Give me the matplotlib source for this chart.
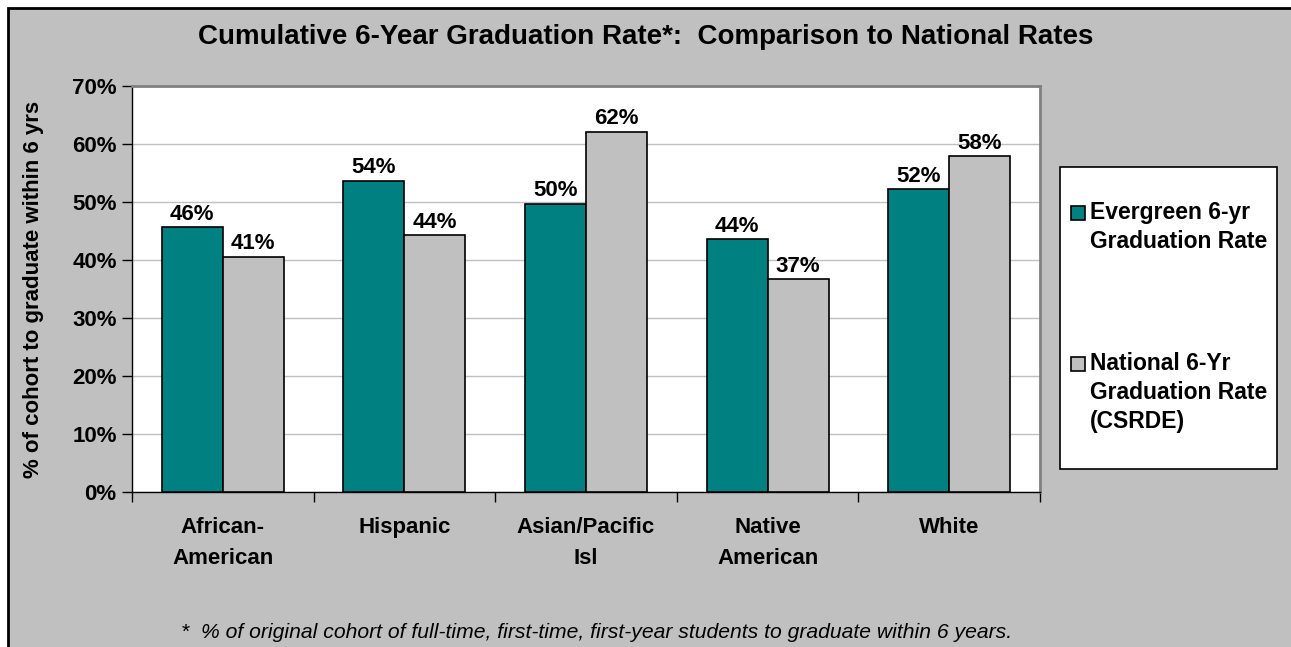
import numpy as np
import matplotlib
matplotlib.use('Agg')
from matplotlib import pyplot as plt
from matplotlib.patches import Rectangle

# Data
groups = ['African-\nAmerican', 'Hispanic', 'Asian/Pacific\nIsl', 'Native\nAmerican', 'White']
evergreen = [45.7, 53.7, 49.7, 43.6, 52.2]
national = [40.6, 44.3, 62.1, 36.7, 57.9]
series_names = ['Evergreen 6-yr\nGraduation Rate', 'National 6-Yr\nGraduation Rate\n(CSRDE)']
series_colors = ['#008080', '#c0c0c0']
yticks = [0, 10, 20, 30, 40, 50, 60, 70]

plt.rcParams['font.family'] = ['Liberation Sans', 'DejaVu Sans']
W, H = 1291, 647
fig = plt.figure(figsize=(W / 100, H / 100), dpi=100, facecolor='white')

# gray chart area with black border on top/left
fig.patches.append(Rectangle((8 / W, -0.1), 1.2, 1 - 8 / H + 0.1,
                             transform=fig.transFigure, facecolor='#c0c0c0',
                             edgecolor='black', linewidth=2, zorder=-10))

ax = fig.add_axes([132 / W, (H - 492) / H, (1040 - 132) / W, (492 - 86) / H])
ax.set_facecolor('white')

x = np.arange(len(groups))
w = 0.336
b1 = ax.bar(x - w / 2, evergreen, w, color=series_colors[0], edgecolor='black', linewidth=1.2, zorder=3)
b2 = ax.bar(x + w / 2, national, w, color=series_colors[1], edgecolor='black', linewidth=1.2, zorder=3)

for bars, vals in [(b1, evergreen), (b2, national)]:
    for r, v in zip(bars, vals):
        ax.text(r.get_x() + r.get_width() / 2, v + 0.4, '%d%%' % round(v),
                ha='center', va='bottom', fontsize=16, fontweight='bold')

ax.set_xlim(-0.5, len(groups) - 0.5)
ax.set_ylim(0, 70)
ax.set_yticks(yticks)
ax.set_yticklabels(['%d%%' % t for t in yticks], fontsize=16, fontweight='bold')
ax.yaxis.grid(True, color='#c0c0c0', linewidth=1, zorder=0)
ax.set_axisbelow(True)

# category boundaries as ticks, labels in between
ax.set_xticks(np.arange(len(groups) + 1) - 0.5)
ax.set_xticklabels([])
ax.set_xticks(x, minor=True)
ax.set_xticklabels(groups, minor=True, fontsize=16, fontweight='bold', linespacing=1.6)
ax.tick_params(axis='x', which='minor', length=0, pad=18)
ax.tick_params(axis='x', which='major', length=7, direction='out', width=1)
ax.tick_params(axis='y', length=7, direction='out', width=1, pad=4)

for s in ['top', 'right']:
    ax.spines[s].set_color('#808080')
    ax.spines[s].set_linewidth(2)
for s in ['left', 'bottom']:
    ax.spines[s].set_color('black')
    ax.spines[s].set_linewidth(1)

ax.set_ylabel('% of cohort to graduate within 6 yrs', fontsize=16, fontweight='bold', labelpad=20)

fig.text(646 / W, 1 - 37 / H,
         'Cumulative 6-Year Graduation Rate*:  Comparison to National Rates',
         ha='center', va='center', fontsize=20, fontweight='bold')

fig.text(597 / W, 1 - 632 / H,
         '*  % of original cohort of full-time, first-time, first-year students to graduate within 6 years.',
         ha='center', va='center', fontsize=15.2, style='italic')

# legend box drawn by hand: handles sit next to the first line of each label
fig.patches.append(Rectangle((1060 / W, 1 - 469 / H), 217 / W, 302 / H,
                             transform=fig.transFigure, facecolor='white',
                             edgecolor='black', linewidth=1.2, zorder=1))
for name, col, yc in zip(series_names, series_colors, [213, 364]):
    fig.patches.append(Rectangle((1071 / W, 1 - (yc + 7) / H), 14 / W, 14 / H,
                                 transform=fig.transFigure, facecolor=col,
                                 edgecolor='black', linewidth=1.2, zorder=2))
    fig.text(1090 / W, 1 - (yc - 12) / H, name, ha='left', va='top', fontsize=16.5,
             fontweight='bold', linespacing=1.33, zorder=2)

fig.savefig('out.png', dpi=100, facecolor='white')
